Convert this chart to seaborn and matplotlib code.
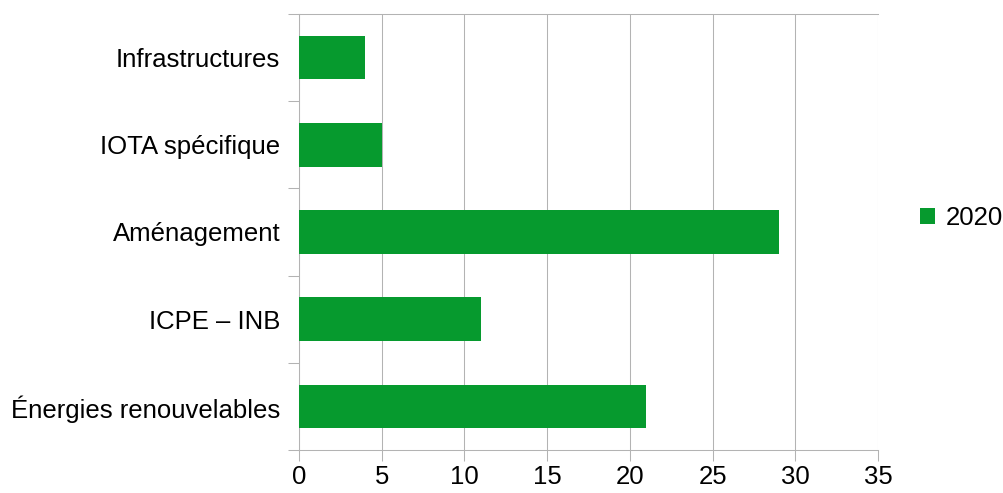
import pandas as pd
import matplotlib
matplotlib.use("Agg")
import matplotlib.pyplot as plt
import seaborn as sns

categories = ["Infrastructures", "IOTA spécifique", "Aménagement", "ICPE – INB", "Énergies renouvelables"]
values_2020 = [4, 5, 29, 11, 21]
series_name = "2020"
x_ticks = [0, 5, 10, 15, 20, 25, 30, 35]

df = pd.DataFrame({"categorie": categories, "valeur": values_2020, "serie": series_name})

sns.set_style("white")
plt.rcParams["font.family"] = ["Liberation Sans", "DejaVu Sans"]

grey = "#b3b3b3"
green = "#069a2e"
fs = 18.5

fig = plt.figure(figsize=(10.04, 4.93), dpi=100)
ax = fig.add_axes([299 / 1004, 1 - 450 / 493, (878 - 299) / 1004, (450 - 14) / 493])

sns.barplot(data=df, y="categorie", x="valeur", hue="serie", palette=[green],
            orient="h", width=0.5, saturation=1, linewidth=0, ax=ax, zorder=3)

ax.set_xlim(0, 35)
ax.set_ylim(4.5, -0.5)
ax.set_xticks(x_ticks)
ax.set_xlabel("")
ax.set_ylabel("")

# vertical grid
ax.xaxis.grid(True, color=grey, linewidth=0.75, zorder=0)
ax.set_axisbelow(True)

for side in ["left", "top", "bottom"]:
    ax.spines[side].set_color(grey)
    ax.spines[side].set_linewidth(0.75)
ax.spines["right"].set_visible(False)

# category ticks sit between bars
ax.set_yticks([i - 0.5 for i in range(len(categories) + 1)], minor=True)
ax.tick_params(axis="y", which="minor", length=8, width=0.75, color=grey, left=True)
ax.tick_params(axis="y", which="major", length=0, pad=13.5, labelsize=fs, colors="black")
ax.tick_params(axis="x", which="major", length=8, width=0.75, color=grey, bottom=True,
               pad=3, labelsize=fs, labelcolor="black")

leg = ax.legend(loc="center left", bbox_to_anchor=(1.072, 0.532), frameon=False,
                fontsize=fs, handlelength=0.6, handleheight=0.6, handletextpad=0.4,
                borderpad=0, borderaxespad=0, labelcolor="black")

fig.savefig("out.png", dpi=100)
